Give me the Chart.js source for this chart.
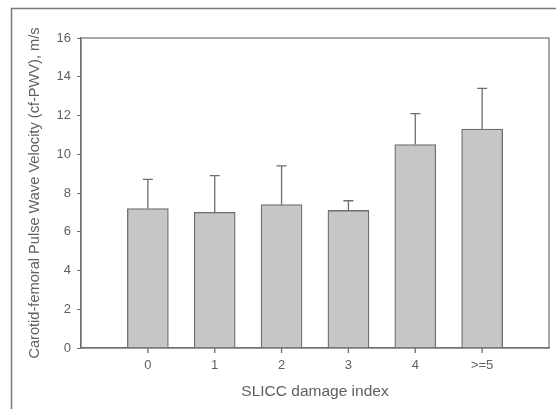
<!DOCTYPE html>
<html>
<head>
<meta charset="utf-8">
<script src="https://cdn.jsdelivr.net/npm/chart.js@4.4.1/dist/chart.umd.min.js"></script>
<style>
  html, body { margin: 0; padding: 0; background: #fff; }
  #wrap { width: 556px; height: 409px; position: relative; }
</style>
</head>
<body>
<div id="wrap"><canvas id="pwvChart"></canvas></div>
<script>
// SLICC damage index groups (blank slots pad the axis on both sides)
var categories = ['', '0', '1', '2', '3', '4', '>=5', ''];
var meanPwv = [null, 7.2, 7.0, 7.4, 7.1, 10.5, 11.3, null];
var sdPwv = [null, 1.5, 1.9, 2.0, 0.5, 1.6, 2.1, null];
var yTicks = [0, 2, 4, 6, 8, 10, 12, 14, 16];

var lineColor = '#6e6e6e';
var textColor = '#606060';

// outer frame, plot box, x tick marks and upward error bars
var decorations = {
    id: 'decorations',
    afterDatasetsDraw: function(chart) {
        var ctx = chart.ctx;
        var area = chart.chartArea;
        var x = chart.scales.x, y = chart.scales.y;
        ctx.save();
        ctx.strokeStyle = '#7a7a7a';
        ctx.lineWidth = 1.5;
        ctx.beginPath();
        ctx.moveTo(11.5, chart.height);
        ctx.lineTo(11.5, 8.5);
        ctx.lineTo(chart.width, 8.5);
        ctx.stroke();

        ctx.strokeStyle = lineColor;
        ctx.lineWidth = 1.2;
        ctx.strokeRect(area.left, area.top, area.right - area.left, area.bottom - area.top);

        ctx.lineWidth = 1.3;
        for (var i = 0; i < meanPwv.length; i++) {
            if (meanPwv[i] === null) continue;
            var cx = x.getPixelForValue(i);
            var yTop = y.getPixelForValue(meanPwv[i]);
            var yErr = y.getPixelForValue(meanPwv[i] + sdPwv[i]);
            ctx.beginPath();
            ctx.moveTo(cx, area.bottom);
            ctx.lineTo(cx, area.bottom + 5);
            ctx.moveTo(cx, yTop);
            ctx.lineTo(cx, yErr);
            ctx.moveTo(cx - 5, yErr);
            ctx.lineTo(cx + 5, yErr);
            ctx.stroke();
        }
        ctx.restore();
    }
};

new Chart(document.getElementById('pwvChart').getContext('2d'), {
    type: 'bar',
    data: {
        labels: categories,
        datasets: [{
            data: meanPwv,
            backgroundColor: '#c6c6c6',
            borderColor: lineColor,
            borderWidth: 1.3,
            barThickness: 41
        }]
    },
    options: {
        responsive: true,
        maintainAspectRatio: false,
        animation: false,
        layout: { padding: { left: 0, top: 38, right: 7, bottom: 0 } },
        plugins: {
            legend: { display: false },
            tooltip: { enabled: false }
        },
        scales: {
            x: {
                offset: false,
                afterFit: function(scale) { scale.height = 61; },
                border: { display: true, color: lineColor, width: 1.2 },
                grid: {
                    offset: false,
                    drawOnChartArea: false,
                    drawTicks: true,
                    tickLength: 5,
                    color: 'rgba(0,0,0,0)'
                },
                ticks: {
                    color: textColor,
                    padding: 5,
                    maxRotation: 0,
                    autoSkip: false,
                    font: { family: 'Liberation Sans', size: 13 }
                },
                title: {
                    display: true,
                    text: 'SLICC damage index',
                    color: textColor,
                    padding: { top: 0, bottom: 8 },
                    font: { family: 'Liberation Sans', size: 15.5 }
                }
            },
            y: {
                min: 0,
                max: 16,
                afterFit: function(scale) { scale.width = 81; },
                afterBuildTicks: function(scale) {
                    scale.ticks = yTicks.map(function(v) { return { value: v }; });
                },
                border: { display: true, color: lineColor, width: 1.2 },
                grid: {
                    drawOnChartArea: false,
                    drawTicks: true,
                    tickLength: 4,
                    color: lineColor
                },
                ticks: {
                    color: textColor,
                    padding: 6,
                    font: { family: 'Liberation Sans', size: 13 }
                },
                title: {
                    display: true,
                    text: 'Carotid-femoral Pulse Wave Velocity (cf-PWV), m/s',
                    color: textColor,
                    padding: { top: 26, bottom: 0 },
                    font: { family: 'Liberation Sans', size: 14.6 }
                }
            }
        }
    },
    plugins: [decorations]
});
</script>
</body>
</html>
